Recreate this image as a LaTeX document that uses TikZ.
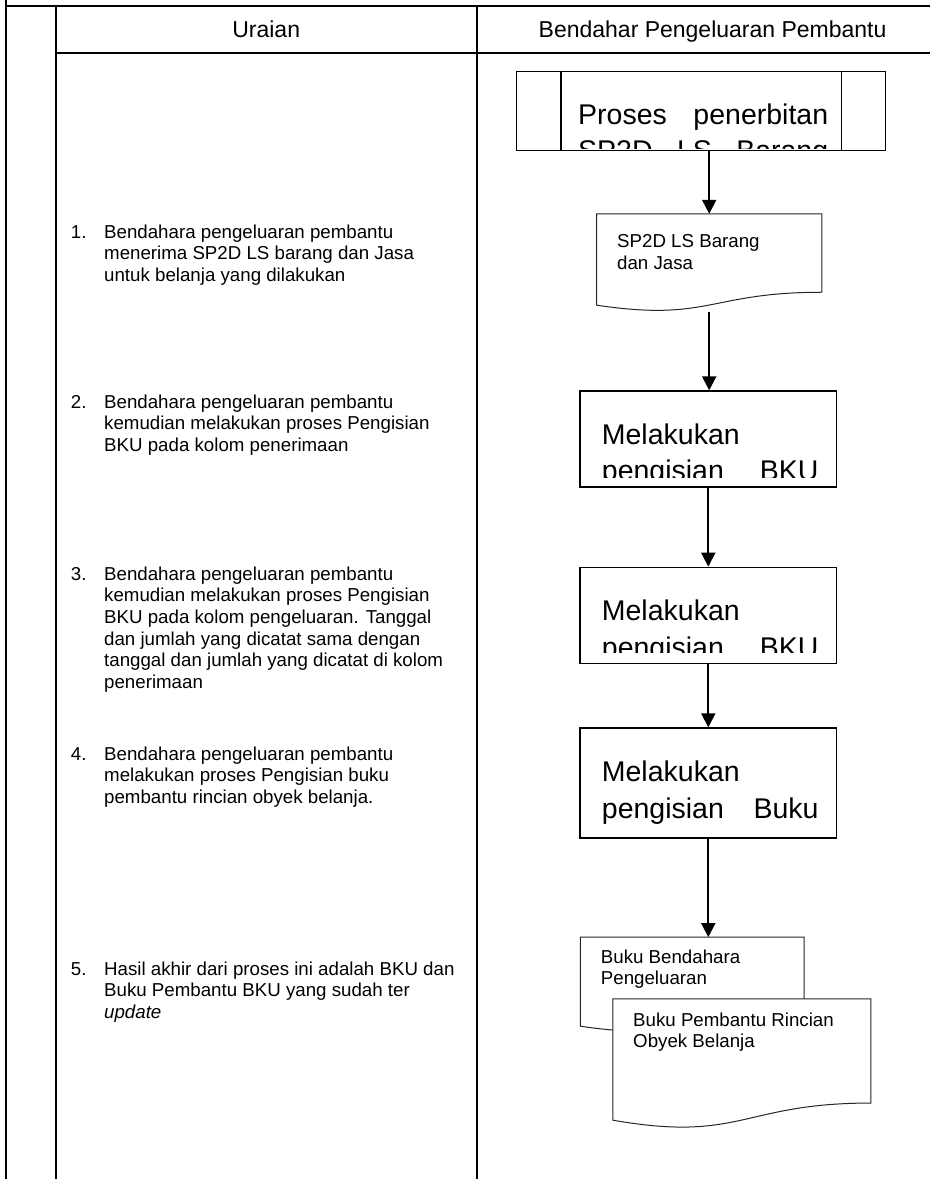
\documentclass[tikz,border=0pt]{standalone}
\usepackage{fontspec}
\setmainfont{Liberation Sans}
\usetikzlibrary{arrows.meta,calc}
\newcommand{\itemtext}[2]{\parbox[t]{400pt}{\hangindent=33.3pt\hangafter=1\noindent\makebox[33.3pt][l]{#1}#2}}
\newcommand{\doctext}[1]{\parbox[t]{250pt}{\raggedright #1}}
\begin{document}
\begin{tikzpicture}[x=1pt,y=-1pt,
  tbl/.style={line width=2pt},
  body/.style={font=\fontsize{18.7}{21.7}\selectfont, inner sep=0pt, anchor=base west},
  big/.style={font=\fontsize{28.5}{36.3}\selectfont, inner sep=0pt, anchor=base west},
  head/.style={font=\fontsize{23}{27}\selectfont, inner sep=0pt},
  procbox/.style={draw, line width=1.3pt, inner sep=0pt},
  docnode/.style={inner sep=0pt},
  docline/.style={draw=black!85, line width=1pt, fill=white},
  arr/.style={line width=2pt, -{Triangle[length=14pt,width=14pt]}}
]
\useasboundingbox (0,0) rectangle (930,1179);
% table
\draw[tbl] (6,0) -- (6,1179);
\draw[tbl] (6,5.7) -- (930,5.7);
\draw[tbl] (55.7,5.7) -- (55.7,1179);
\draw[tbl] (476.7,5.7) -- (476.7,1179);
\draw[tbl] (55.7,53.3) -- (930,53.3);
\node[head, anchor=base] (h1) at (266.2,37) {Uraian};
\node[head, anchor=base east] (h2) at (886.7,37) {Bendahar Pengeluaran Pembantu};

% left column texts
\node[body] (i1) at (70.7,238) {\itemtext{1.}{Bendahara pengeluaran pembantu\\menerima SP2D LS barang dan Jasa\\untuk belanja yang dilakukan}};
\node[body] (i2) at (70.7,408) {\itemtext{2.}{Bendahara pengeluaran pembantu\\kemudian melakukan proses Pengisian\\BKU pada kolom penerimaan}};
\node[body] (i3) at (70.7,580) {\itemtext{3.}{Bendahara pengeluaran pembantu\\kemudian melakukan proses Pengisian\\BKU pada kolom pengeluaran. Tanggal\\dan jumlah yang dicatat sama dengan\\tanggal dan jumlah yang dicatat di kolom\\penerimaan}};
\node[body] (i4) at (70.7,760) {\itemtext{4.}{Bendahara pengeluaran pembantu\\melakukan proses Pengisian buku\\pembantu rincian obyek belanja.}};
\node[body] (i5) at (70.7,975) {\itemtext{5.}{Hasil akhir dari proses ini adalah BKU dan\\Buku Pembantu BKU yang sudah ter\\\textit{update}}};

% process box
\node[procbox, minimum width=369pt, minimum height=79pt] (p) at (701.2,111.2) {};
\draw[line width=1.3pt] ($(p.north west)+(45,0)$) -- ($(p.south west)+(45,0)$);
\draw[line width=1.3pt] ($(p.north east)+(-44.7,0)$) -- ($(p.south east)+(-44.7,0)$);
\begin{scope}
  \clip ($(p.north west)+(1,1)$) rectangle ($(p.south east)+(-1,-3)$);
  \node[big] (pt) at (578,124) {\parbox[t]{250pt}{\makebox[250pt][s]{Proses penerbitan}\\\makebox[250pt][s]{SP2D LS Barang}}};
\end{scope}

% document 1
\node[docnode, minimum width=225pt, minimum height=97.4pt] (d1) at (709.2,262.7) {};
\draw[docline] (d1.north west) -- (d1.north east) -- ($(d1.north east)!0.802!(d1.south east)$)
  .. controls ($(d1.north)!0.802!(d1.south)$) and ($(d1.north)!1.107!(d1.south)$) .. ($(d1.north west)!0.934!(d1.south west)$) -- cycle;
\node[body] (d1t) at (617,247.3) {\doctext{SP2D LS Barang\\dan Jasa}};

% box 2
\node[procbox, minimum width=256.7pt, minimum height=96pt] (b2) at (708.3,439) {};
\begin{scope}
  \clip ($(b2.north west)+(1,1)$) rectangle ($(b2.south east)+(-1,-10.3)$);
  \node[big] (b2t) at (601.7,444) {\parbox[t]{216.7pt}{Melakukan\\\makebox[216.7pt][s]{pengisian BKU}}};
\end{scope}

% box 3
\node[procbox, minimum width=256.7pt, minimum height=96pt] (b3) at (708.3,615.3) {};
\begin{scope}
  \clip ($(b3.north west)+(1,1)$) rectangle ($(b3.south east)+(-1,-11.6)$);
  \node[big] (b3t) at (601.7,620.7) {\parbox[t]{216.7pt}{Melakukan\\\makebox[216.7pt][s]{pengisian BKU}}};
\end{scope}

% box 4
\node[procbox, minimum width=256.7pt, minimum height=110pt] (b4) at (708.3,783) {};
\begin{scope}
  \clip ($(b4.north west)+(1,1)$) rectangle ($(b4.south east)+(-1,-8)$);
  \node[big] (b4t) at (601.7,781.7) {\parbox[t]{216.7pt}{Melakukan\\\makebox[216.7pt][s]{pengisian Buku}}};
\end{scope}

% document 2
\node[docnode, minimum width=223.3pt, minimum height=95pt] (d2) at (692.3,984.8) {};
\draw[docline] (d2.north west) -- (d2.north east) -- ($(d2.north east)!0.802!(d2.south east)$)
  .. controls ($(d2.north)!0.802!(d2.south)$) and ($(d2.north)!1.107!(d2.south)$) .. ($(d2.north west)!0.934!(d2.south west)$) -- cycle;
\node[body] (d2t) at (600.7,963) {\doctext{Buku Bendahara\\Pengeluaran}};

% document 3
\node[docnode, minimum width=257.5pt, minimum height=129.5pt] (d3) at (741.8,1063.8) {};
\draw[docline] (d3.north west) -- (d3.north east) -- ($(d3.north east)!0.802!(d3.south east)$)
  .. controls ($(d3.north)!0.802!(d3.south)$) and ($(d3.north)!1.107!(d3.south)$) .. ($(d3.north west)!0.934!(d3.south west)$) -- cycle;
\node[body] (d3t) at (633,1026) {\doctext{Buku Pembantu Rincian\\Obyek Belanja}};

% arrows
\draw[arr] (p.south -| d1.north) -- (d1.north);
\draw[arr] (d1.south) -- (d1.south |- b2.north);
\draw[arr] (b2.south) -- (b3.north);
\draw[arr] (b3.south) -- (b4.north);
\draw[arr] (b4.south) -- (b4.south |- d2.north);
\end{tikzpicture}
\end{document}
